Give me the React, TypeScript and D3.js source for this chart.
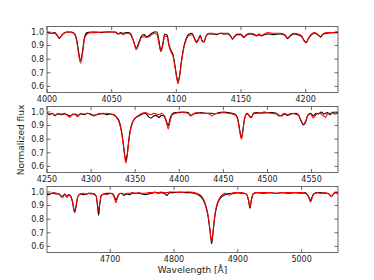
import React from 'react';
import * as d3 from 'd3';

// panel 1: 4000-4225 A
const wl1 = [4000, 4003, 4006, 4008, 4009.5, 4011, 4013, 4016, 4019, 4021, 4023, 4024.5, 4026, 4027.5, 4029, 4031, 4034, 4038, 4042, 4046, 4050, 4053, 4055, 4057, 4059, 4061, 4063, 4065, 4067, 4069, 4071, 4073, 4075, 4077, 4079, 4081, 4083, 4085, 4086.5, 4088, 4089.5, 4091, 4093, 4094, 4096, 4097.5, 4099, 4100.3, 4101.3, 4102.5, 4104, 4106, 4108, 4110, 4112, 4114, 4115.5, 4117, 4118.5, 4120, 4121.5, 4123, 4125, 4128, 4131, 4134, 4137, 4140, 4142, 4143.5, 4145, 4147, 4150, 4152, 4154, 4157, 4160, 4162, 4164, 4166, 4168, 4171, 4175, 4180, 4184, 4186, 4188, 4191, 4194, 4197, 4199, 4200.5, 4202, 4204, 4207, 4210, 4211.5, 4213, 4216, 4220, 4225];
const mod1 = [0.995, 0.99, 0.99, 0.97, 0.95, 0.97, 0.99, 1.0, 0.995, 0.985, 0.93, 0.83, 0.77, 0.84, 0.95, 0.985, 0.995, 0.995, 1.0, 1.0, 1.0, 0.995, 0.985, 0.99, 0.98, 0.99, 0.99, 0.975, 0.93, 0.87, 0.91, 0.96, 0.965, 0.96, 0.965, 0.98, 0.99, 0.98, 0.92, 0.855, 0.9, 0.97, 0.965, 0.91, 0.85, 0.82, 0.74, 0.66, 0.62, 0.67, 0.78, 0.89, 0.95, 0.975, 0.98, 0.95, 0.92, 0.94, 0.97, 0.93, 0.925, 0.97, 0.99, 0.99, 0.985, 0.99, 0.99, 0.99, 0.97, 0.945, 0.97, 0.985, 0.985, 0.965, 0.98, 0.99, 0.985, 0.975, 0.985, 0.975, 0.985, 0.995, 0.99, 0.99, 0.98, 0.955, 0.975, 0.99, 0.985, 0.97, 0.93, 0.92, 0.95, 0.98, 0.995, 0.975, 0.96, 0.98, 0.995, 0.995, 1.0];
const obs1 = [1.0, 0.99, 0.995, 0.975, 0.955, 0.97, 0.99, 1.0, 1.0, 0.99, 0.94, 0.85, 0.79, 0.86, 0.96, 0.995, 1.0, 1.0, 0.995, 1.0, 1.0, 1.0, 0.985, 0.995, 0.99, 0.995, 0.995, 0.98, 0.93, 0.88, 0.92, 0.97, 0.98, 0.965, 0.975, 0.99, 1.0, 1.0, 0.94, 0.86, 0.91, 0.985, 0.975, 0.92, 0.86, 0.83, 0.75, 0.67, 0.635, 0.68, 0.79, 0.9, 0.96, 0.985, 0.99, 0.955, 0.93, 0.945, 0.975, 0.935, 0.93, 0.97, 0.985, 0.985, 0.98, 0.99, 0.985, 0.985, 0.97, 0.95, 0.965, 0.98, 0.98, 0.96, 0.975, 0.985, 0.98, 0.97, 0.98, 0.97, 0.98, 0.985, 0.98, 0.985, 0.975, 0.95, 0.97, 0.985, 0.98, 0.965, 0.935, 0.925, 0.95, 0.975, 0.99, 0.975, 0.965, 0.98, 0.99, 0.995, 0.995];

// panel 2: 4250-4580 A
const wl2 = [4250, 4253, 4256, 4259, 4262, 4266, 4270, 4273, 4276, 4279, 4282, 4285, 4288, 4292, 4296, 4300, 4303, 4306, 4310, 4314, 4318, 4322, 4326, 4329, 4332, 4334.5, 4336.5, 4338, 4339.5, 4341, 4342.5, 4344.5, 4347, 4350, 4354, 4358, 4362, 4365, 4368, 4371, 4374, 4377, 4380, 4383, 4385.5, 4387.5, 4389.5, 4392, 4396, 4400, 4405, 4410, 4413, 4416, 4420, 4425, 4430, 4434, 4437, 4440, 4445, 4450, 4455, 4460, 4464, 4467, 4469, 4470.5, 4472, 4474, 4477, 4480, 4482, 4484, 4488, 4492, 4496, 4500, 4505, 4510, 4513, 4516, 4519, 4523, 4527, 4531, 4535, 4538, 4540.5, 4543, 4546, 4549, 4552, 4555, 4558, 4561, 4564, 4566, 4568, 4571, 4574, 4577, 4580];
const mod2 = [0.99, 0.985, 0.99, 0.97, 0.99, 0.985, 0.99, 0.975, 0.96, 0.985, 0.98, 0.965, 0.99, 0.985, 0.99, 0.985, 0.97, 0.98, 0.99, 0.985, 0.99, 0.985, 0.975, 0.96, 0.92, 0.85, 0.76, 0.68, 0.625, 0.68, 0.77, 0.86, 0.92, 0.955, 0.975, 0.99, 0.995, 0.985, 0.98, 0.99, 0.985, 0.98, 0.99, 0.97, 0.92, 0.875, 0.93, 0.98, 0.99, 1.0, 0.995, 0.99, 0.97, 0.985, 0.995, 0.99, 0.99, 0.985, 0.97, 0.985, 0.99, 0.995, 0.99, 0.985, 0.975, 0.92, 0.84, 0.8, 0.85, 0.95, 0.985, 0.97, 0.96, 0.985, 0.99, 0.995, 0.99, 0.995, 0.99, 0.985, 0.97, 0.975, 0.99, 0.98, 0.99, 0.985, 0.975, 0.94, 0.91, 0.93, 0.975, 0.985, 0.955, 0.98, 0.99, 0.985, 0.97, 0.96, 0.985, 0.99, 0.99, 0.985, 0.99];
const obs2 = [0.995, 0.98, 0.99, 0.975, 0.985, 0.98, 0.985, 0.98, 0.97, 0.98, 0.985, 0.975, 0.985, 0.98, 0.99, 0.98, 0.975, 0.98, 0.985, 0.99, 0.98, 0.985, 0.98, 0.96, 0.93, 0.86, 0.77, 0.69, 0.64, 0.69, 0.78, 0.87, 0.925, 0.955, 0.97, 0.985, 0.99, 0.965, 0.955, 0.97, 0.975, 0.96, 0.975, 0.97, 0.93, 0.9, 0.95, 0.985, 0.995, 0.995, 1.0, 0.995, 0.975, 0.985, 0.99, 0.995, 0.99, 0.99, 0.99, 0.985, 0.995, 1.0, 0.995, 0.99, 0.98, 0.93, 0.85, 0.81, 0.86, 0.95, 0.99, 0.965, 0.96, 0.99, 0.995, 0.99, 1.0, 0.995, 0.995, 0.99, 0.975, 0.97, 0.985, 0.975, 0.985, 0.99, 0.98, 0.935, 0.905, 0.92, 0.98, 0.99, 0.97, 0.99, 0.985, 1.0, 0.985, 0.99, 0.995, 0.98, 1.0, 0.99, 0.995];

// panel 3: 4600-5057 A
const wl3 = [4600, 4604, 4608, 4612, 4616, 4620, 4623, 4626, 4629, 4632, 4635, 4638, 4641, 4643, 4644.5, 4646.5, 4649, 4653, 4658, 4662, 4666, 4670, 4674, 4678, 4680.5, 4682, 4683.5, 4686, 4690, 4695, 4700, 4704, 4707, 4709, 4711, 4714, 4718, 4722, 4726, 4730, 4735, 4740, 4745, 4750, 4755, 4760, 4765, 4770, 4775, 4780, 4785, 4789, 4793, 4800, 4810, 4818, 4825, 4832, 4838, 4843, 4847, 4850, 4853, 4855.5, 4857.5, 4859, 4860.5, 4862.5, 4865, 4868, 4872, 4876, 4880, 4884, 4887, 4890, 4895, 4900, 4905, 4910, 4914, 4917, 4919, 4921, 4924, 4930, 4940, 4950, 4960, 4970, 4980, 4990, 5000, 5005, 5009, 5012, 5014, 5016, 5019, 5025, 5030, 5035, 5040, 5044, 5046.5, 5049, 5052, 5057];
const mod3 = [0.99, 0.985, 0.99, 0.995, 0.99, 0.985, 0.965, 0.96, 0.985, 0.96, 0.975, 0.965, 0.93, 0.88, 0.86, 0.9, 0.96, 0.985, 0.99, 0.98, 0.99, 0.985, 0.99, 0.97, 0.9, 0.86, 0.91, 0.97, 0.985, 0.98, 0.99, 0.98, 0.95, 0.92, 0.95, 0.985, 0.99, 0.985, 0.99, 0.99, 0.995, 0.99, 0.995, 0.99, 0.99, 0.995, 0.995, 0.995, 0.995, 1.0, 0.995, 0.995, 1.0, 1.0, 0.995, 1.0, 1.0, 0.995, 0.985, 0.97, 0.94, 0.9, 0.84, 0.76, 0.68, 0.635, 0.68, 0.77, 0.86, 0.92, 0.96, 0.98, 0.99, 0.985, 0.975, 0.99, 0.995, 0.995, 0.995, 0.99, 0.98, 0.94, 0.89, 0.94, 0.985, 0.995, 0.995, 0.995, 0.99, 0.995, 0.995, 0.995, 0.995, 0.99, 0.98, 0.95, 0.925, 0.95, 0.985, 0.995, 0.99, 0.995, 0.99, 0.98, 0.965, 0.98, 0.995, 0.995];
const obs3 = [0.98, 0.98, 0.99, 0.99, 0.985, 0.985, 0.97, 0.97, 0.985, 0.965, 0.98, 0.97, 0.925, 0.87, 0.85, 0.89, 0.96, 0.985, 0.98, 0.985, 0.99, 0.99, 0.985, 0.97, 0.88, 0.83, 0.9, 0.975, 0.985, 0.99, 0.99, 0.985, 0.96, 0.94, 0.96, 0.985, 0.99, 0.975, 0.985, 0.98, 0.99, 0.99, 0.99, 0.985, 0.98, 0.985, 0.99, 1.0, 0.99, 0.995, 0.99, 0.975, 0.995, 0.995, 1.0, 0.995, 0.995, 0.99, 0.98, 0.96, 0.93, 0.89, 0.83, 0.75, 0.67, 0.62, 0.67, 0.76, 0.85, 0.91, 0.95, 0.97, 0.98, 0.985, 0.99, 0.985, 0.99, 0.995, 0.99, 0.99, 0.98, 0.93, 0.88, 0.93, 0.985, 0.995, 0.99, 0.995, 0.99, 0.995, 0.99, 0.995, 0.99, 0.995, 0.98, 0.955, 0.935, 0.96, 0.985, 0.995, 0.995, 0.99, 0.99, 0.98, 0.965, 0.98, 0.995, 0.99];

const xTicks1 = [4000, 4050, 4100, 4150, 4200];
const xTicks2 = [4250, 4300, 4350, 4400, 4450, 4500, 4550];
const xTicks3 = [4700, 4800, 4900, 5000];
const yTicks = [0.6, 0.7, 0.8, 0.9, 1.0];

const panels = [
  { wl: wl1, obs: obs1, mod: mod1, xDomain: [4000, 4225], xTicks: xTicks1 },
  { wl: wl2, obs: obs2, mod: mod2, xDomain: [4250, 4580], xTicks: xTicks2 },
  { wl: wl3, obs: obs3, mod: mod3, xDomain: [4601, 5057], xTicks: xTicks3 },
];

const W = 374;
const H = 280;
const left = 47;
const right = 338;
const tops = [26.5, 106.5, 186.5];
const ph = 66;
const tickLen = 3.5;
const font = 'DejaVu Sans, sans-serif';

const Panel = ({ p, top, idx }) => {
  const x = d3.scaleLinear().domain(p.xDomain).range([left, right]);
  const y = d3.scaleLinear().domain([0.555, 1.04]).range([top + ph, top]);
  const line = (vals) =>
    d3.line<number>()
      .x((_, i) => x(p.wl[i]))
      .y((d) => y(d))
      .curve(d3.curveMonotoneX)(vals);
  const clipId = `clip${idx}`;
  return (
    <g>
      <defs>
        <clipPath id={clipId}>
          <rect x={left} y={top} width={right - left} height={ph} />
        </clipPath>
      </defs>
      <g clipPath={`url(#${clipId})`}>
        <path d={line(p.obs)} fill="none" stroke="#000" strokeWidth={1.1} strokeLinejoin="round" />
        <path d={line(p.mod)} fill="none" stroke="#ff0000" strokeWidth={1.05} strokeLinejoin="round" />
      </g>
      {p.xTicks.map((t) => (
        <g key={t}>
          <line x1={x(t)} x2={x(t)} y1={top + ph} y2={top + ph - tickLen} stroke="#000" strokeWidth={0.6} />
          <line x1={x(t)} x2={x(t)} y1={top} y2={top + tickLen} stroke="#000" strokeWidth={0.6} />
          <text x={x(t)} y={top + ph + 3} dy="0.76em" textAnchor="middle" fontSize={8} fontFamily={font} fill="#222">
            {t}
          </text>
        </g>
      ))}
      {yTicks.map((t) => (
        <g key={t}>
          <line x1={left} x2={left + tickLen} y1={y(t)} y2={y(t)} stroke="#000" strokeWidth={0.6} />
          <line x1={right} x2={right - tickLen} y1={y(t)} y2={y(t)} stroke="#000" strokeWidth={0.6} />
          <text x={left - 3} y={y(t)} dy="0.35em" textAnchor="end" fontSize={8} fontFamily={font} fill="#222">
            {t.toFixed(1)}
          </text>
        </g>
      ))}
      <rect x={left} y={top} width={right - left} height={ph} fill="none" stroke="#444" strokeWidth={0.8} />
    </g>
  );
};

export default function App() {
  return (
    <svg width={W} height={H} style={{ position: 'fixed', left: 0, top: 0, background: '#fff' }}>
      <rect width={W} height={H} fill="#fff" />
      {panels.map((p, i) => (
        <Panel key={i} p={p} top={tops[i]} idx={i} />
      ))}
      <text x={(left + right) / 2} y={273} textAnchor="middle" fontSize={9} fontFamily={font} fill="#222">
        Wavelength [Å]
      </text>
      <text transform={`translate(21,140) rotate(-90)`} textAnchor="middle" fontSize={9} fontFamily={font} fill="#222" dy="0.35em">
        Normalized flux
      </text>
    </svg>
  );
}
